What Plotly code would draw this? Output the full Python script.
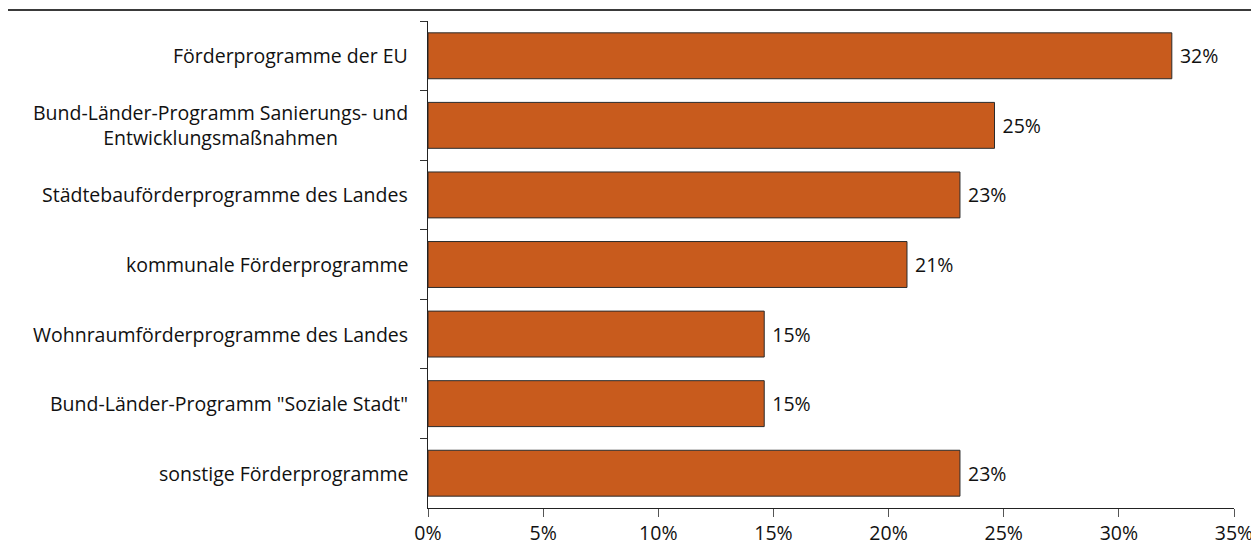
import plotly.graph_objects as go

categories = [
    "Förderprogramme der EU",
    "Bund-Länder-Programm Sanierungs- und<br>Entwicklungsmaßnahmen",
    "Städtebauförderprogramme des Landes",
    "kommunale Förderprogramme",
    "Wohnraumförderprogramme des Landes",
    'Bund-Länder-Programm "Soziale Stadt"',
    "sonstige Förderprogramme",
]
values = [32.3, 24.6, 23.1, 20.8, 14.6, 14.6, 23.1]
x_ticks = [0, 5, 10, 15, 20, 25, 30, 35]
x_tick_labels = [f"{t}%" for t in x_ticks]

FONT = "Open Sans"
FS = 19.5
BAR_COLOR = "#C85B1D"

fig = go.Figure()
fig.add_trace(go.Bar(
    x=values,
    y=categories,
    orientation="h",
    width=0.66,
    marker=dict(color=BAR_COLOR, line=dict(color="#2b2b2b", width=1)),
    text=[f" {round(v)}%" for v in values],
    textposition="outside",
    textfont=dict(family=FONT, size=FS, color="#111"),
    cliponaxis=False,
))

# category labels as annotations so that the wrapped one is centred
for cat in categories:
    fig.add_annotation(
        x=0, xref="paper", xshift=-18, y=cat, yref="y",
        text=cat, showarrow=False, xanchor="right", align="center",
        font=dict(family=FONT, size=FS, color="#111"),
    )

# dark rule across the top
fig.add_shape(type="line", xref="paper", yref="paper",
              x0=-0.6, x1=1.1, y0=1.0226, y1=1.0226,
              line=dict(color="#3a3a3a", width=2))

fig.update_xaxes(
    range=[0, 35], tickvals=x_ticks, ticktext=x_tick_labels,
    showgrid=False, zeroline=False, showline=True, linecolor="#222", linewidth=1,
    ticks="outside", ticklen=8, tickcolor="#555",
    tickfont=dict(family=FONT, size=FS, color="#111"),
    automargin=False,
)
fig.update_yaxes(
    autorange="reversed", showticklabels=False, tickson="boundaries",
    showgrid=False, showline=True, linecolor="#222", linewidth=1,
    ticks="outside", ticklen=7, tickcolor="#333",
    automargin=False,
)
# page body has an 8px margin, so the figure is shrunk by that amount
fig.update_layout(
    width=1251, height=544,
    margin=dict(l=420, r=25, t=13, b=44),
    plot_bgcolor="white", paper_bgcolor="white",
    showlegend=False, bargap=0.34,
    font=dict(family=FONT, color="#111"),
)

fig.write_html("out.html")
